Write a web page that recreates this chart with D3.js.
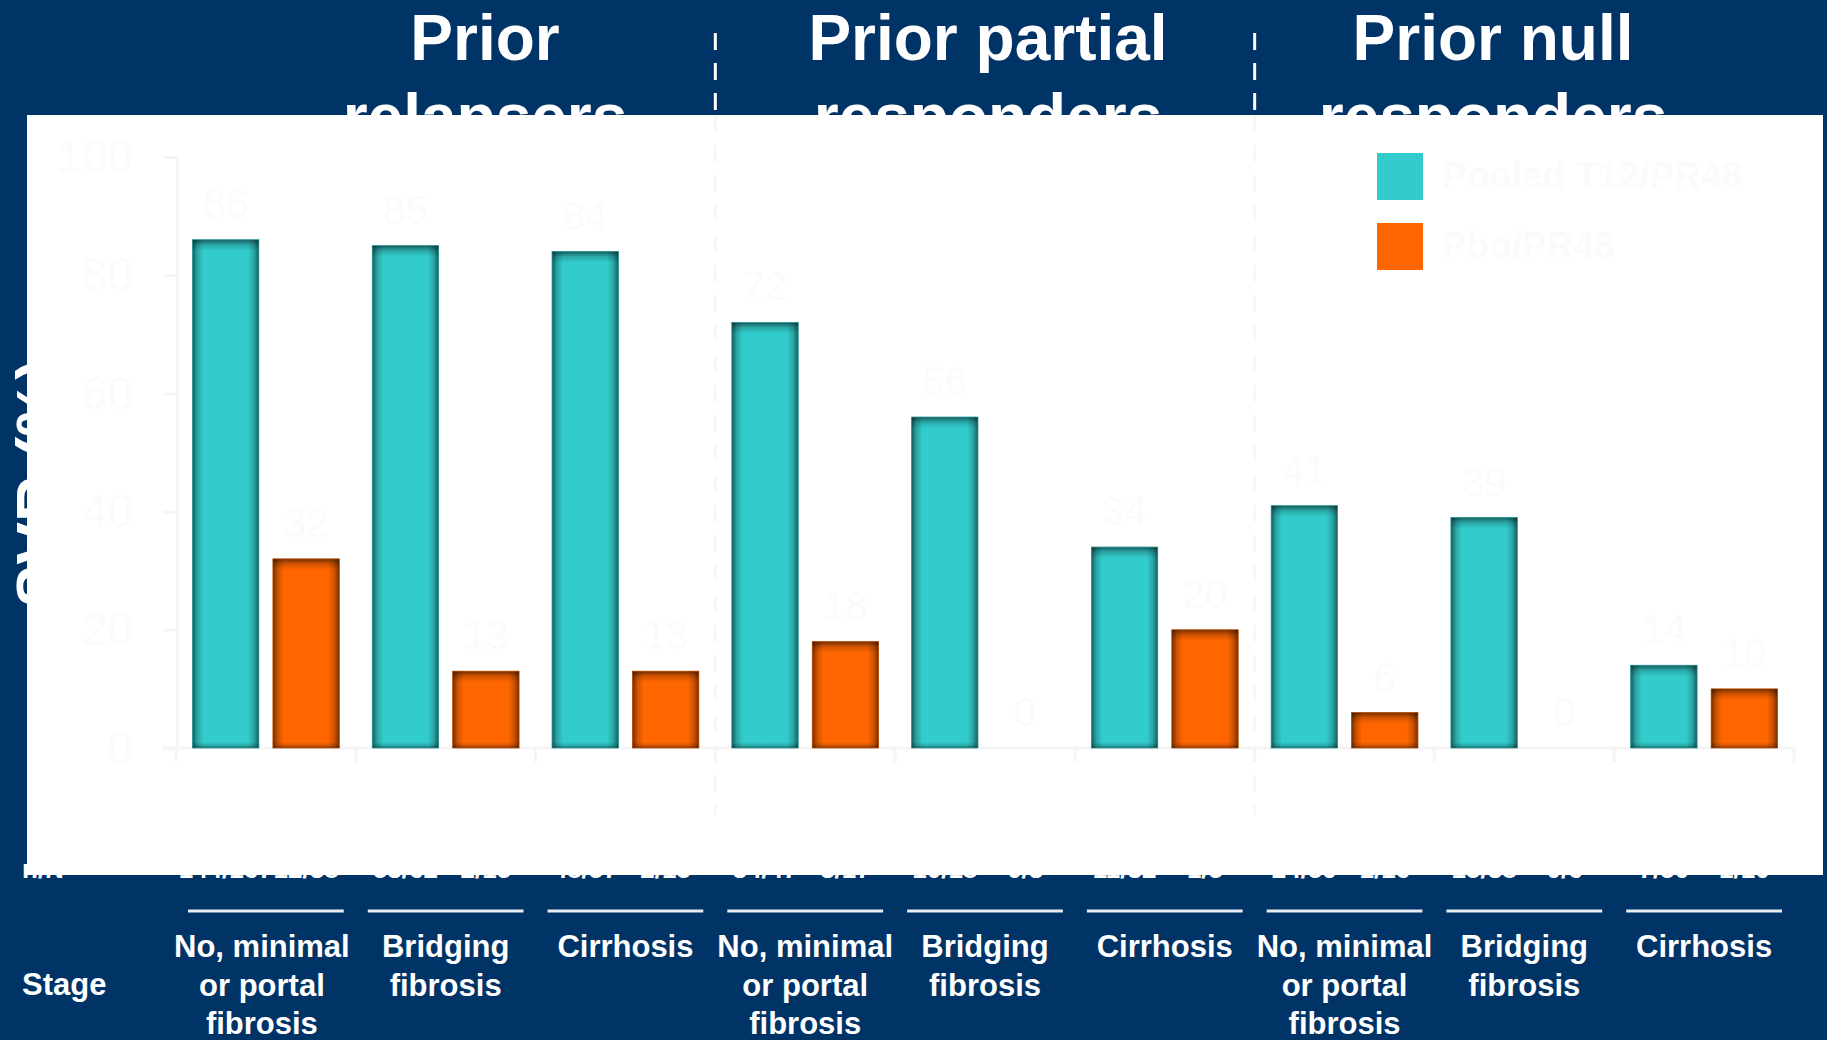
<!DOCTYPE html>
<html>
<head>
<meta charset="utf-8">
<script src="https://cdn.jsdelivr.net/npm/d3@7/dist/d3.min.js"></script>
<style>
  html, body { margin: 0; padding: 0; background: #003366; }
  svg { display: block; }
  text { font-family: "Liberation Sans", Arial, Helvetica, sans-serif; }
</style>
</head>
<body>
<svg id="chart" width="1827" height="1040"></svg>
<script>
// SVR by fibrosis stage within prior-response groups
const groups = [["Prior", "relapsers"], ["Prior partial", "responders"], ["Prior null", "responders"]];
const stageLines = [
  ["No, minimal", "or portal", "fibrosis"],
  ["Bridging", "fibrosis"],
  ["Cirrhosis"]
];
const categories = ["rel-nmp", "rel-bf", "rel-cir", "par-nmp", "par-bf", "par-cir", "nul-nmp", "nul-bf", "nul-cir"];
const seriesNames = ["Pooled T12/PR48", "Pbo/PR48"];
const pooledT12 = [86, 85, 84, 72, 56, 34, 41, 39, 14];
const pboPR48 = [32, 13, 13, 18, 0, 20, 6, 0, 10];
const pooledN = ["144/167", "53/62", "48/57", "34/47", "10/18", "11/32", "24/59", "15/38", "7/50"];
const pboN = ["12/38", "2/15", "2/15", "3/17", "0/3", "1/5", "1/16", "0/6", "1/10"];
const yTicks = [0, 20, 40, 60, 80, 100];

const colors = ["#33CCCC", "#FF6600"];
const navy = "#003366";
const faint = "#fbfbfb";
const axisGrey = "#f5f5f5";

const svg = d3.select("#chart");
const defs = svg.append("defs");

// edge shading gradients for the bevelled bars
function shade(id, x1, y1, x2, y2, op) {
  const g = defs.append("linearGradient").attr("id", id)
    .attr("x1", x1).attr("y1", y1).attr("x2", x2).attr("y2", y2);
  g.append("stop").attr("offset", "0%").attr("stop-color", "#000").attr("stop-opacity", op);
  g.append("stop").attr("offset", "45%").attr("stop-color", "#000").attr("stop-opacity", op * 0.35);
  g.append("stop").attr("offset", "100%").attr("stop-color", "#000").attr("stop-opacity", 0);
}
shade("shL", 0, 0, 1, 0, 0.55);
shade("shR", 1, 0, 0, 0, 0.55);
shade("shT", 0, 0, 0, 1, 0.55);
shade("shB", 0, 1, 0, 0, 0.45);

// background
svg.append("rect").attr("width", 1827).attr("height", 1040).attr("fill", navy);

// scales
const x = d3.scaleBand().domain(categories).range([176, 1794]).padding(0);
const xs = d3.scaleBand().domain(seriesNames).range([16.5, x.bandwidth() - 16.5]).paddingInner(0.175).paddingOuter(0);
const y = d3.scaleLinear().domain([0, 100]).range([748, 157]);

// group separators
const sepX = [x(categories[3]), x(categories[6])];
const titleX = [485, 988, 1493];

// group titles
groups.forEach((g, i) => {
  const t = svg.append("text").attr("text-anchor", "middle")
    .attr("fill", "#fff").attr("font-weight", "bold").attr("font-size", 64);
  t.append("tspan").attr("x", titleX[i]).attr("y", 60).text(g[0]);
  t.append("tspan").attr("x", titleX[i]).attr("y", 139).text(g[1]);
});

// dashed separators over the dark band
sepX.forEach(sx => {
  svg.append("line").attr("x1", sx).attr("x2", sx).attr("y1", 33).attr("y2", 815)
    .attr("stroke", "#fff").attr("stroke-width", 3).attr("stroke-dasharray", "17,13");
});

// n/N row
svg.append("text").attr("x", 22).attr("y", 878).attr("fill", "#fff")
  .attr("font-weight", "bold").attr("font-size", 26).text("n/N");
const nRow = svg.append("g").attr("fill", "#fff").attr("font-weight", "bold")
  .attr("font-size", 26).attr("text-anchor", "middle");
categories.forEach((c, i) => {
  nRow.append("text").attr("x", x(c) + xs(seriesNames[0]) + xs.bandwidth() / 2).attr("y", 878).text(pooledN[i]);
  nRow.append("text").attr("x", x(c) + xs(seriesNames[1]) + xs.bandwidth() / 2).attr("y", 878).text(pboN[i]);
});

// y-axis title
svg.append("text").attr("transform", "translate(62,483) rotate(-90)")
  .attr("text-anchor", "middle").attr("fill", "#fff").attr("font-weight", "bold")
  .attr("font-size", 64).text("SVR (%)");

// white plot panel
svg.append("rect").attr("x", 27).attr("y", 115).attr("width", 1796).attr("height", 760).attr("fill", "#fff");

// faint separators inside the panel
sepX.forEach(sx => {
  svg.append("line").attr("x1", sx).attr("x2", sx).attr("y1", 115).attr("y2", 815)
    .attr("stroke", "#f8f8f8").attr("stroke-width", 3).attr("stroke-dasharray", "17,13");
});

// y axis
const yAxis = svg.append("g").attr("transform", "translate(177,0)")
  .call(d3.axisLeft(y).tickValues(yTicks).tickSize(14).tickPadding(30));
yAxis.select(".domain").attr("stroke", axisGrey).attr("stroke-width", 3);
yAxis.selectAll(".tick line").attr("stroke", axisGrey).attr("stroke-width", 3);
yAxis.selectAll(".tick text").attr("fill", faint).attr("font-size", 46)
  .attr("font-family", "'Liberation Sans', Arial, sans-serif");

// x axis baseline with boundary ticks
const xAxis = svg.append("g");
xAxis.append("line").attr("x1", 163).attr("x2", 1794).attr("y1", y(0)).attr("y2", y(0))
  .attr("stroke", axisGrey).attr("stroke-width", 3);
categories.concat(["end"]).forEach((c, i) => {
  const bx = i < categories.length ? x(c) : x(categories[categories.length - 1]) + x.bandwidth();
  xAxis.append("line").attr("x1", bx).attr("x2", bx).attr("y1", y(0)).attr("y2", y(0) + 14)
    .attr("stroke", axisGrey).attr("stroke-width", 3);
});

// bars
const barData = [];
categories.forEach((c, i) => {
  barData.push({ c, s: seriesNames[0], v: pooledT12[i], col: colors[0] });
  barData.push({ c, s: seriesNames[1], v: pboPR48[i], col: colors[1] });
});
const bars = svg.append("g").selectAll("g").data(barData.filter(d => d.v > 0)).join("g")
  .attr("transform", d => `translate(${x(d.c) + xs(d.s)},${y(d.v)})`);
const bw = xs.bandwidth();
const edge = 11;
bars.append("rect").attr("width", bw).attr("height", d => y(0) - y(d.v))
  .attr("fill", d => d.col);
bars.append("rect").attr("width", edge).attr("height", d => y(0) - y(d.v)).attr("fill", "url(#shL)");
bars.append("rect").attr("x", bw - edge).attr("width", edge).attr("height", d => y(0) - y(d.v)).attr("fill", "url(#shR)");
bars.append("rect").attr("width", bw).attr("height", d => Math.min(edge, (y(0) - y(d.v)) / 2)).attr("fill", "url(#shT)");
bars.append("rect").attr("y", d => y(0) - y(d.v) - Math.min(6, (y(0) - y(d.v)) / 2)).attr("width", bw)
  .attr("height", d => Math.min(6, (y(0) - y(d.v)) / 2)).attr("fill", "url(#shB)");
bars.append("rect").attr("width", bw).attr("height", d => y(0) - y(d.v))
  .attr("fill", "none").attr("stroke", d => d3.color(d.col).darker(0.9)).attr("stroke-width", 0.8);

// value labels
svg.append("g").selectAll("text").data(barData).join("text")
  .attr("x", d => x(d.c) + xs(d.s) + xs.bandwidth() / 2)
  .attr("y", d => y(d.v) - 22)
  .attr("text-anchor", "middle").attr("fill", faint).attr("font-size", 40)
  .text(d => d.v);

// legend
const legend = svg.append("g").attr("transform", "translate(1377,153)");
seriesNames.forEach((s, i) => {
  legend.append("rect").attr("x", 0).attr("y", i * 70).attr("width", 46).attr("height", 47).attr("fill", colors[i]);
  legend.append("text").attr("x", 65).attr("y", i * 70 + 35).attr("fill", faint)
    .attr("font-weight", "bold").attr("font-size", 37).text(s);
});

// rules under the n/N row
categories.forEach(c => {
  svg.append("line").attr("x1", x(c) + 12).attr("x2", x(c) + x.bandwidth() - 12)
    .attr("y1", 911).attr("y2", 911).attr("stroke", "#e6ecf2").attr("stroke-width", 3);
});

// stage labels
svg.append("text").attr("x", 22).attr("y", 995).attr("fill", "#fff")
  .attr("font-weight", "bold").attr("font-size", 31).text("Stage");
categories.forEach((c, i) => {
  const lines = stageLines[i % 3];
  const cx = x(c) + x.bandwidth() / 2 - (i === 0 ? 4 : 0);
  const t = svg.append("text").attr("text-anchor", "middle").attr("fill", "#fff")
    .attr("font-weight", "bold").attr("font-size", 31);
  lines.forEach((ln, j) => t.append("tspan").attr("x", cx).attr("y", 957 + j * 38.5).text(ln));
});
</script>
</body>
</html>
